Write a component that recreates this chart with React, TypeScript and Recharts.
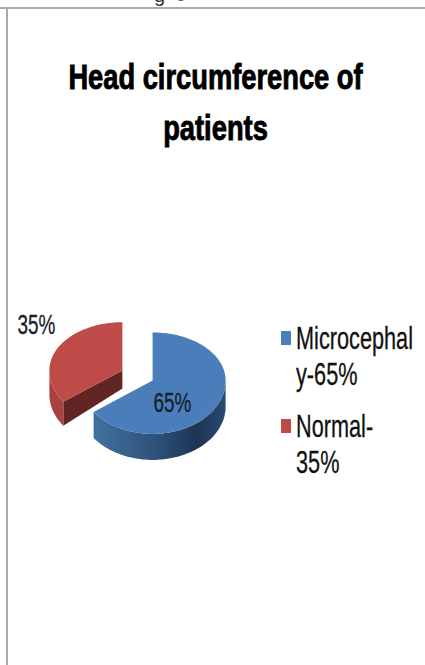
import { PieChart, Pie, Legend } from "recharts";

const categories = ["Microcephaly-65%", "Normal-35%"];
const values = [65, 35];
const sliceLabels = ["65%", "35%"];
const legendLines = [
  ["Microcephal", "y-65%"],
  ["Normal-", "35%"],
];
const titleLines = ["Head circumference of", "patients"];
const colors = ["#4a7ebb", "#be4b48"];

const data = categories.map((name, i) => ({ name, value: values[i], fill: colors[i] }));

// the original is a tilted 3D pie, so the circle gets squashed into an ellipse
const BACK_SQUASH = 0.66;
const FRONT_SQUASH = 0.73;
const DEPTHS = [26, 24];
const APEX_DEPTH = 18;
const EXPLODE = 17;
const wallFills = ["url(#blueWall)", "#a8423f"];
const cutFill = "#632523";
const labelOffsets = [
  { dx: 35, dy: 36 },
  { dx: -101, dy: -42 },
];

const rad = (deg: number) => (deg * Math.PI) / 180;

const ellipsePoint = (cx: number, cy: number, r: number, deg: number) => {
  const sin = Math.sin(rad(deg));
  const squash = sin > 0 ? BACK_SQUASH : FRONT_SQUASH;
  return { x: cx + r * Math.cos(rad(deg)), y: cy - r * sin * squash };
};

const toPath = (pts: { x: number; y: number }[]) =>
  "M" + pts.map((p) => `${p.x.toFixed(1)},${p.y.toFixed(1)}`).join("L") + "Z";

function Slice3D(props: any) {
  const { cx, cy, outerRadius, startAngle, endAngle, midAngle, fill, index } = props;
  const depth = DEPTHS[index];
  const ox = cx + EXPLODE * Math.cos(rad(midAngle));
  const oy = cy - EXPLODE * Math.sin(rad(midAngle)) * BACK_SQUASH;

  const angles: number[] = [];
  for (let a = startAngle; a > endAngle; a -= 2) angles.push(a);
  angles.push(endAngle);
  const arc = angles.map((a) => ellipsePoint(ox, oy, outerRadius, a));
  const apex = { x: ox, y: oy };

  const front = angles.filter((a) => Math.sin(rad(a)) <= 0.001).map((a) => ellipsePoint(ox, oy, outerRadius, a));
  const wall = [...front, ...[...front].reverse().map((p) => ({ x: p.x, y: p.y + depth }))];

  // cut face on the clockwise start edge, only when it turns toward the viewer
  const showCut = Math.sin(rad(startAngle + 90)) < -0.01;
  const edge = arc[0];
  const cut = [apex, edge, { x: edge.x, y: edge.y + depth }, { x: apex.x, y: apex.y + APEX_DEPTH }];

  return (
    <g>
      {showCut && <path d={toPath(cut)} fill={cutFill} />}
      {front.length > 1 && <path d={toPath(wall)} fill={wallFills[index]} />}
      <path d={toPath([apex, ...arc])} fill={fill} />
    </g>
  );
}

const renderSliceLabel = (props: any) => {
  const { cx, cy, index } = props;
  const pos = labelOffsets[index];
  return (
    <text
      transform={`translate(${cx + pos.dx},${cy + pos.dy}) scale(0.7,1)`}
      textAnchor="middle"
      fontSize={27}
      fontFamily="Liberation Sans"
      fill="#16202c"
      stroke="#16202c"
      strokeWidth={0.3}
    >
      {sliceLabels[index]}
    </text>
  );
};

const markerTops = [21, 109];
const lineBases = [39, 127];

const renderLegend = (props: any) => (
  <svg width={150} height={180} style={{ display: "block" }}>
    {props.payload.map((entry: any, i: number) => (
      <g key={entry.value}>
        <rect x={6} y={markerTops[i]} width={10} height={14} fill={colors[i]} />
        {legendLines[i].map((line, j) => (
          <text
            key={line}
            transform={`translate(21,${lineBases[i] + j * 36}) scale(0.7,1)`}
            fontSize={31}
            fontFamily="Liberation Sans"
            fill="#111"
            stroke="#111"
            strokeWidth={0.3}
          >
            {line}
          </text>
        ))}
      </g>
    ))}
  </svg>
);

export default function App() {
  return (
    <div style={{ position: "absolute", left: 0, top: 0, width: 425, height: 665, background: "#fff", overflow: "hidden" }}>
      <PieChart width={425} height={665} margin={{ top: 0, right: 0, bottom: 0, left: 0 }}>
        <defs>
          <linearGradient id="blueWall" x1="0" y1="0" x2="1" y2="0">
            <stop offset="0%" stopColor="#42719f" />
            <stop offset="45%" stopColor="#2f537c" />
            <stop offset="78%" stopColor="#1d3554" />
            <stop offset="100%" stopColor="#2a4a70" />
          </linearGradient>
        </defs>
        {/* descenders of the caption cut off above the frame */}
        <text x={154} y={2} fontSize={20} fontFamily="Liberation Sans" fill="#333">g</text>
        <text x={175} y={1} fontSize={20} fontFamily="Liberation Sans" fill="#555">e</text>
        <line x1={0} y1={8} x2={425} y2={8} stroke="#aaaaaa" strokeWidth={2} />
        <line x1={7} y1={8} x2={7} y2={665} stroke="#aaaaaa" strokeWidth={2} />
        {titleLines.map((line, i) => (
          <text
            key={line}
            transform={`translate(215.5,${i === 0 ? 89 : 140}) scale(0.78,1)`}
            textAnchor="middle"
            fontSize={35}
            fontWeight="bold"
            fontFamily="Liberation Sans"
            fill="#000"
            stroke="#000"
            strokeWidth={0.9}
          >
            {line}
          </text>
        ))}
        <Pie
          data={data}
          dataKey="value"
          nameKey="name"
          cx={137.5}
          cy={375.5}
          outerRadius={73}
          startAngle={90}
          endAngle={-270}
          stroke="none"
          shape={Slice3D}
          label={renderSliceLabel}
          labelLine={false}
          isAnimationActive={false}
        />
        <Legend content={renderLegend} wrapperStyle={{ left: 275, top: 310, width: 150 }} />
      </PieChart>
    </div>
  );
}
